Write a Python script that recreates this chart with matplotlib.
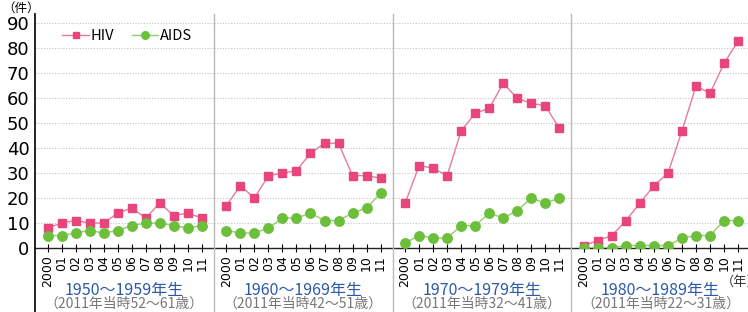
import matplotlib
matplotlib.use("Agg")
import matplotlib.pyplot as plt
from matplotlib.lines import Line2D

plt.rcParams['font.family'] = ['Noto Sans CJK JP', 'DejaVu Sans']

years = ["2000", "01", "02", "03", "04", "05", "06", "07", "08", "09", "10", "11"]
cohorts = ["1950〜1959年生", "1960〜1969年生", "1970〜1979年生", "1980〜1989年生"]
ages = ["（2011年当時52〜61歳）", "（2011年当時42〜51歳）", "（2011年当時32〜41歳）", "（2011年当時22〜31歳）"]

hiv_1950s = [8, 10, 11, 10, 10, 14, 16, 12, 18, 13, 14, 12]
hiv_1960s = [17, 25, 20, 29, 30, 31, 38, 42, 42, 29, 29, 28]
hiv_1970s = [18, 33, 32, 29, 47, 54, 56, 66, 60, 58, 57, 48]
hiv_1980s = [1, 3, 5, 11, 18, 25, 30, 47, 65, 62, 74, 83]

aids_1950s = [5, 5, 6, 7, 6, 7, 9, 10, 10, 9, 8, 9]
aids_1960s = [7, 6, 6, 8, 12, 12, 14, 11, 11, 14, 16, 22]
aids_1970s = [2, 5, 4, 4, 9, 9, 14, 12, 15, 20, 18, 20]
aids_1980s = [0, 0, 0, 1, 1, 1, 1, 4, 5, 5, 11, 11]

hiv_all = [hiv_1950s, hiv_1960s, hiv_1970s, hiv_1980s]
aids_all = [aids_1950s, aids_1960s, aids_1970s, aids_1980s]
y_ticks = [0, 10, 20, 30, 40, 50, 60, 70, 80, 90]

W, H = 748, 312
fig = plt.figure(figsize=(W / 100, H / 100), dpi=100)

pink = "#e8467a"
pink_line = "#e37c9c"
green = "#6cbf3a"
green_line = "#8fcf6a"
blue = "#2a5aa8"
gray_txt = "#777777"

left_px, right_px = 35, 750
bottom_px, top_px = 248, 13.5
pw = (right_px - left_px) / 4

axes = []
for p in range(4):
    x0 = (left_px + p * pw) / W
    ax = fig.add_axes([x0, (H - bottom_px) / H, pw / W, (bottom_px - top_px) / H])
    axes.append(ax)
    xs = list(range(len(years)))
    ax.plot(xs, hiv_all[p], color=pink_line, lw=1.0, marker="s", ms=6,
            mfc=pink, mec=pink, zorder=3, label="HIV")
    ax.plot(xs, aids_all[p], color=green_line, lw=1.0, marker="o", ms=6.8,
            mfc=green, mec=green, zorder=3, label="AIDS")
    ax.set_xlim(-0.9, 11.85)
    ax.set_ylim(0, 94)
    ax.set_yticks(y_ticks)
    for yv in y_ticks[1:]:
        ax.axhline(yv, color="#c4c4c4", lw=0.8, ls=(0, (1, 1.5)), zorder=1)
    ax.set_xticks(xs)
    ax.set_xticklabels(years, rotation=90, fontsize=9, family="DejaVu Sans",
                       va="top", ha="center")
    ax.tick_params(axis="x", direction="inout", length=6, width=0.8, pad=2)
    for s in ["top", "right", "left"]:
        ax.spines[s].set_visible(False)
    ax.spines["bottom"].set_color("#222222")
    ax.spines["bottom"].set_linewidth(1.0)
    if p == 0:
        ax.tick_params(axis="y", length=0, labelsize=13, pad=4)
        for lbl in ax.get_yticklabels():
            lbl.set_family("DejaVu Sans")
    else:
        ax.tick_params(axis="y", left=False, labelleft=False)
    cx = (left_px + (p + 0.5) * pw) / W
    fig.text(cx, (H - 290) / H, cohorts[p], color=blue, fontsize=11.5,
             ha="center", va="center")
    fig.text(cx, (H - 304) / H, ages[p], color=gray_txt, fontsize=10,
             ha="center", va="center")

# left black spine extending to bottom
fig.add_artist(Line2D([left_px / W, left_px / W], [0, (H - top_px) / H],
                      color="#111111", lw=1.3))
# gray dividers
for p in range(1, 4):
    xd = (left_px + p * pw) / W
    fig.add_artist(Line2D([xd, xd], [0, (H - 14) / H], color="#bbbbbb", lw=1.0))

leg = axes[0].legend(loc="upper left", bbox_to_anchor=(0.08, 0.99), ncol=2,
                     frameon=False, fontsize=10.5, handlelength=1.8,
                     columnspacing=1.2, handletextpad=0.15, markerscale=0.8)

fig.text(2 / W, (H - 8) / H, "（件）", fontsize=9, ha="left", va="center")
fig.text(721 / W, (H - 282) / H, "（年）", fontsize=9.5, ha="left", va="center",
         color="#333333")

fig.savefig("out.png", dpi=100)
